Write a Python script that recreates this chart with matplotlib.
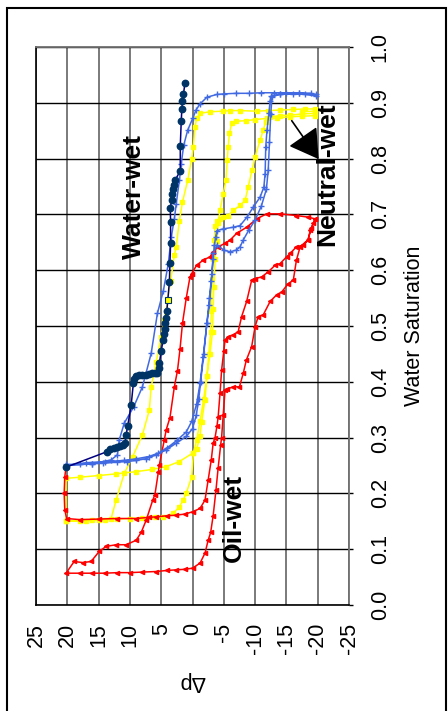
"""Pressure difference vs water saturation for three wettability cases (rotated layout)."""
import matplotlib
matplotlib.use("Agg")
import matplotlib.pyplot as plt
from matplotlib.patches import Rectangle

plt.rcParams["font.family"] = ["Liberation Sans", "DejaVu Sans"]

# ---- data: (dp, sw) pairs ----
navy_dp = [20.2, 13.6, 13.2, 12.6, 12.1, 11.6, 11.1, 10.8, 10.6, 10.35, 9.8, 9.45, 9.3, 9.0,
           8.5, 8.0, 7.5, 7.0, 6.5, 6.0, 5.6, 5.4, 5.3, 5.0, 4.7, 4.55, 4.45, 4.35, 4.25, 4.1,
           3.7, 3.6, 3.5, 3.5, 3.55, 3.3, 3.2, 3.1, 3.0, 2.8, 1.95, 1.95, 1.8, 1.7, 1.6, 1.45, 1.2]
navy_sw = [0.247, 0.275, 0.279, 0.281, 0.283, 0.285, 0.287, 0.290, 0.305, 0.321, 0.358, 0.397,
           0.405, 0.410, 0.412, 0.413, 0.413, 0.414, 0.415, 0.415, 0.415, 0.425, 0.433, 0.455,
           0.475, 0.485, 0.495, 0.505, 0.515, 0.527, 0.578, 0.613, 0.649, 0.686, 0.712, 0.726,
           0.737, 0.746, 0.753, 0.761, 0.778, 0.823, 0.867, 0.889, 0.904, 0.915, 0.936]

blue_dp = [20.2, 18, 16, 14.35, 12, 10.5, 9, 7.5, 5.8, 4.2, 2.6, 1.0, 0, -0.6, -1.0, -1.3, -1.8,
           -2.3, -2.7, -3.0, -3.3, -3.5, -3.7, -3.9, -4.9, -6.5, -7.6, -8.7, -9.7, -10.8, -11.4,
           -11.6, -11.7, -11.9, -12.2, -12.4, -12.6, -14, -16, -18, -19.8,
           -19, -17, -15, -13, -11, -9, -7, -5, -3.9, -2.3, -1.2, -0.56, -0.03, 0.77, 1.4, 1.8,
           2.1, 2.6, 2.9, 3.4, 3.86, 4.66, 5.6, 6.6, 8.0, 9.4, 10.9, 11.7, 12.0, 13.0, 16, 20.2,
           17, 14, 11, 9, 7, 5.5, 4, 2.5, 1.0, 0.13, -0.67, -1.2, -1.7, -2.3, -2.7, -3.1, -3.3,
           -3.9, -5, -6, -7, -7.6, -8.1, -9, -10, -11, -11.8, -12.1, -12.3, -12.5, -12.7, -14,
           -17, -19.8]
blue_sw = [0.252, 0.252, 0.253, 0.254, 0.256, 0.257, 0.259, 0.262, 0.269, 0.278, 0.290, 0.302,
           0.316, 0.340, 0.370, 0.400, 0.450, 0.505, 0.538, 0.580, 0.620, 0.645, 0.660, 0.671,
           0.674, 0.677, 0.680, 0.695, 0.713, 0.731, 0.749, 0.773, 0.821, 0.851, 0.881, 0.904,
           0.913, 0.915, 0.916, 0.915, 0.912,
           0.917, 0.918, 0.918, 0.918, 0.918, 0.917, 0.917, 0.916, 0.915, 0.910, 0.898, 0.887,
           0.872, 0.851, 0.824, 0.791, 0.761, 0.719, 0.692, 0.659, 0.612, 0.563, 0.523, 0.451,
           0.391, 0.355, 0.326, 0.296, 0.269, 0.260, 0.253, 0.250,
           0.255, 0.257, 0.259, 0.262, 0.266, 0.272, 0.282, 0.295, 0.310, 0.329, 0.361, 0.397,
           0.445, 0.505, 0.550, 0.594, 0.630, 0.645, 0.636, 0.633, 0.636, 0.642, 0.654, 0.672,
           0.690, 0.715, 0.745, 0.780, 0.830, 0.880, 0.910, 0.916, 0.917, 0.915]

yellow_dp = [20.2, 18, 16, 14, 12, 10, 8, 6, 4.7, 3.1, 2.1, 1.5, 1.0, 0.13, -0.13, -0.67, -1.2,
             -1.8, -2.3, -2.8, -3.2, -3.3, -3.4, -3.6, -3.9, -4.1, -4.4, -4.9, -5.35, -5.55, -5.7,
             -5.9, -6.25, -7.0, -8.6, -10, -11.85, -13.5, -15.6, -17.5, -19.6,
             -19.6, -18, -16, -14, -12, -10.25, -7.6, -6, -4.9, -2.8, -1.2, -0.67, -0.4, -0.13,
             0.13, 0.77, 1.6, 2.1, 2.6, 2.9, 3.5, 3.97, 4.5, 5.0, 5.8, 6.6, 6.9, 8.0, 9.55, 10.9,
             12.2, 13.0, 15, 17, 20.2,
             20.2, 18, 15, 12.2, 9, 6.4, 4.2, 2.1, 0, -0.67, -1.2, -1.46, -2.0, -2.3, -2.6, -2.9,
             -3.0, -3.1, -3.3, -3.5, -3.6, -3.9, -4.4, -4.9, -5.7, -6.5, -7.6, -8.4, -8.9, -9.5,
             -10.0, -10.8, -11.3, -11.7, -12.4, -14, -15.6, -17.5, -19.6, -19.6, -17.5]
yellow_sw = [0.150, 0.151, 0.152, 0.153, 0.154, 0.155, 0.156, 0.157, 0.158, 0.164, 0.176, 0.188,
             0.200, 0.230, 0.272, 0.296, 0.330, 0.370, 0.410, 0.450, 0.490, 0.530, 0.570, 0.620,
             0.653, 0.685, 0.707, 0.737, 0.761, 0.797, 0.821, 0.845, 0.863, 0.867, 0.868, 0.870,
             0.872, 0.873, 0.875, 0.876, 0.877,
             0.889, 0.889, 0.888, 0.887, 0.886, 0.885, 0.886, 0.886, 0.885, 0.884, 0.881, 0.872,
             0.857, 0.821, 0.800, 0.761, 0.722, 0.689, 0.642, 0.627, 0.580, 0.547, 0.510, 0.481,
             0.435, 0.391, 0.349, 0.305, 0.266, 0.236, 0.188, 0.155, 0.152, 0.151, 0.150,
             0.227, 0.229, 0.232, 0.235, 0.239, 0.243, 0.248, 0.257, 0.272, 0.279, 0.303, 0.328,
             0.368, 0.410, 0.450, 0.490, 0.526, 0.584, 0.620, 0.654, 0.680, 0.689, 0.692, 0.695,
             0.698, 0.707, 0.716, 0.725, 0.749, 0.779, 0.803, 0.833, 0.851, 0.866, 0.875, 0.877,
             0.878, 0.880, 0.881, 0.885, 0.884]

red_dp = [20.2, 20.4, 20.5, 20.4, 20.1, 18, 15, 12, 9, 7, 5.8, 4, 2.6, 1.2, 0, -1.2, -2.0, -2.5,
          -3.0, -3.3, -3.6, -3.9, -4.1, -4.4, -4.65, -5.0, -5.2, -5.7, -6.5, -7.3, -7.85, -8.65,
          -9.45, -10.0, -11.05, -12.1, -13.2, -14.0, -15.05, -15.6, -16.6, -17.7, -18.5, -18.8,
          -19.3, -19.6,
          -18.5, -16.6, -14, -11.85, -10.25, -8.65, -7.05, -6, -5.2, -4.1, -3.3, -2.8, -1.7,
          -0.67, 0.13, 0.4, 1.0, 1.6, 2.0, 2.4, 2.9, 3.6, 4.2, 4.5, 5.3, 5.46, 6.0, 6.35, 7.4,
          8.2, 9.0, 10.6, 12.2, 13.8, 14.9, 16.2, 17.5, 18.9, 20.2,
          18, 16, 14, 12, 10, 8, 5.8, 4, 2.6, 1.2, 0, -1.2, -2.0, -2.5, -2.9, -3.3, -3.75, -4.1,
          -4.5, -4.65, -4.9, -5.2, -5.5, -6.5, -7.5, -8.1, -8.6, -9.45, -10.0, -10.5, -11.3,
          -12.4, -13.45, -14.25, -15.3, -16.1, -16.6, -17.2, -18.4, -19.0, -19.6]
red_sw = [0.247, 0.230, 0.200, 0.170, 0.155, 0.153, 0.154, 0.155, 0.155, 0.157, 0.158, 0.160,
          0.161, 0.163, 0.167, 0.173, 0.188, 0.224, 0.260, 0.290, 0.300, 0.320, 0.337, 0.380,
          0.421, 0.455, 0.475, 0.481, 0.484, 0.490, 0.517, 0.544, 0.582, 0.585, 0.588, 0.597,
          0.609, 0.612, 0.624, 0.630, 0.642, 0.645, 0.654, 0.672, 0.684, 0.692,
          0.695, 0.698, 0.701, 0.701, 0.692, 0.677, 0.666, 0.654, 0.648, 0.642, 0.633, 0.624,
          0.618, 0.609, 0.594, 0.588, 0.550, 0.505, 0.458, 0.420, 0.391, 0.336, 0.314, 0.296,
          0.251, 0.238, 0.198, 0.188, 0.152, 0.130, 0.116, 0.108, 0.108, 0.105, 0.096, 0.078,
          0.076, 0.078, 0.057,
          0.057, 0.057, 0.057, 0.058, 0.058, 0.059, 0.060, 0.062, 0.063, 0.064, 0.066, 0.075,
          0.093, 0.116, 0.130, 0.160, 0.206, 0.246, 0.287, 0.300, 0.340, 0.385, 0.387, 0.391,
          0.391, 0.415, 0.439, 0.463, 0.499, 0.517, 0.520, 0.544, 0.556, 0.561, 0.576, 0.582,
          0.618, 0.642, 0.654, 0.675, 0.692]

marked_dp = [3.97]
marked_sw = [0.547]

dp_ticks = [25, 20, 15, 10, 5, 0, -5, -10, -15, -20, -25]
sw_ticks = [0.0, 0.1, 0.2, 0.3, 0.4, 0.5, 0.6, 0.7, 0.8, 0.9, 1.0]

fig = plt.figure(figsize=(4.48, 7.11), dpi=100)
ax = fig.add_axes([36 / 448, 1 - 605 / 711, 313 / 448, 558 / 711])

ax.plot(yellow_dp, yellow_sw, "-s", color="#FFFF00", lw=1.1, ms=2.8, mec="#FFFF00", zorder=3)
ax.plot(red_dp, red_sw, "-<", color="#FF0000", lw=1.1, ms=3, mec="#FF0000", zorder=4)
ax.plot(blue_dp, blue_sw, "-+", color="#4169E1", lw=1.1, ms=4, mew=1, zorder=5)
ax.plot(navy_dp, navy_sw, "-o", color="#000080", lw=1.1, ms=4.6, mfc="#003366",
        mec="#003366", zorder=6)
ax.plot(marked_dp, marked_sw, "s", color="#FFFF00", ms=4, mec="#003366", mew=0.8, zorder=7)

ax.set_xlim(25, -25)
ax.set_ylim(0, 1)
ax.set_xticks(dp_ticks)
ax.set_xticklabels([str(v) for v in dp_ticks], rotation=90, fontsize=15.5)
ax.yaxis.tick_right()
ax.set_yticks(sw_ticks)
ax.set_yticklabels([f"{v:.1f}" for v in sw_ticks], rotation=90, va="center", fontsize=15.5)
ax.tick_params(axis="x", length=0, pad=13)
ax.tick_params(axis="y", length=3, width=1, direction="out", pad=12)

ax.set_axisbelow(True)
ax.grid(axis="x", color="#707070", lw=1.3)
ax.grid(axis="y", color="black", lw=1.0)
for side in ["top", "right"]:
    ax.spines[side].set_color("#707070")
    ax.spines[side].set_linewidth(1.3)
for side in ["left", "bottom"]:
    ax.spines[side].set_color("black")
    ax.spines[side].set_linewidth(1.2)

ax.set_xlabel("Δp", rotation=180, fontsize=15.5, va="center")
ax.xaxis.set_label_coords(0.5, -0.137)
ax.yaxis.set_label_position("right")
ax.set_ylabel("Water Saturation", rotation=90, fontsize=15.5, va="center")
ax.yaxis.set_label_coords(1.21, 0.5)

ax.text(9.4, 0.732, "Water-wet", rotation=90, fontsize=19, fontweight="bold",
        ha="center", va="center", zorder=8)
ax.text(-21.6, 0.772, "Neutral-wet", rotation=90, fontsize=19, fontweight="bold",
        ha="center", va="center", zorder=8)
ax.text(-6.6, 0.156, "Oil-wet", rotation=90, fontsize=19, fontweight="bold",
        ha="center", va="center", zorder=8)
ax.annotate("", xy=(-20.4, 0.795), xytext=(-15.6, 0.872),
            arrowprops=dict(arrowstyle="-|>,head_length=0.75,head_width=0.45",
                            color="black", lw=1.2, mutation_scale=24), zorder=8)

fig.patches.append(Rectangle((7 / 448, -0.02), 439 / 448, 1.02 - 8 / 711,
                             transform=fig.transFigure, fill=False, ec="black", lw=1.5))

fig.savefig("out.png", dpi=100)
print("Saved out.png")
